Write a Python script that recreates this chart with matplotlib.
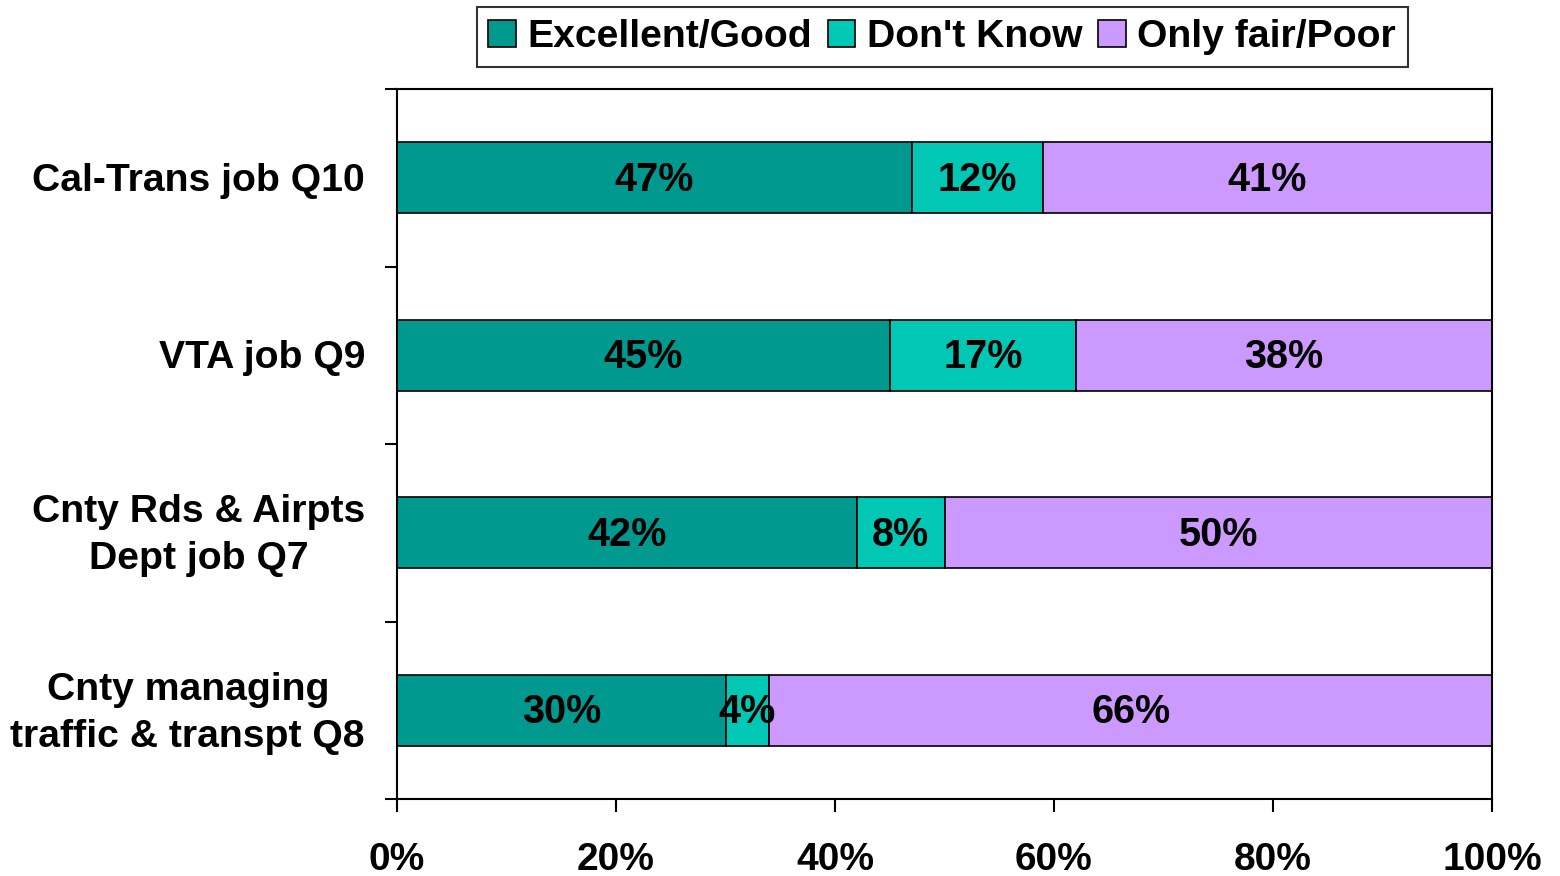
import matplotlib.pyplot as plt
import matplotlib.transforms as mtransforms
import numpy as np

# Survey ratings, in percent
categories = ["Cal-Trans job Q10", "VTA job Q9", "Cnty Rds & Airpts\nDept job Q7",
              "Cnty managing\ntraffic & transpt Q8"]
excellent_good = [47, 45, 42, 30]
dont_know = [12, 17, 8, 4]
fair_poor = [41, 38, 50, 66]
series_names = ["Excellent/Good", "Don't Know", "Only fair/Poor"]
colors = ["#009990", "#00C8B4", "#CC99FF"]
x_ticks = [0, 20, 40, 60, 80, 100]

plt.rcParams['font.family'] = ['Liberation Sans', 'DejaVu Sans']
plt.rcParams['font.weight'] = 'bold'

fig = plt.figure(figsize=(15.6, 8.76), dpi=100)
ax = fig.add_axes([0.2545, 0.0879, 0.7019, 0.8105])

y = np.arange(len(categories))
left = np.zeros(len(categories))
for vals, name, col in zip([excellent_good, dont_know, fair_poor], series_names, colors):
    vals = np.array(vals)
    ax.barh(y, vals, left=left, height=0.4, color=col, edgecolor="black",
            linewidth=1.2, label=name)
    for yi, l, v in zip(y, left, vals):
        ax.text(l + v / 2, yi + 0.01, f"{v}%", ha="center", va="center",
                fontsize=28.5, fontweight="bold", color="black")
    left = left + vals

ax.set_xlim(0, 100)
ax.set_ylim(len(categories) - 0.5, -0.5)

# Major ticks at category boundaries, labels on minor ticks at centers
ax.set_yticks(np.arange(-0.5, len(categories), 1.0))
ax.set_yticklabels([])
ax.set_yticks(y, minor=True)
ax.set_yticklabels(categories, minor=True, fontsize=28.2, fontweight="bold",
                   multialignment="center", linespacing=1.4, va="center")
ax.tick_params(axis="y", which="minor", length=0, pad=23)
ax.tick_params(axis="y", which="major", length=9, width=1.5, direction="out")
shift = mtransforms.ScaledTranslation(0, -3 / 100, fig.dpi_scale_trans)
for lab in ax.get_yticklabels(minor=True):
    lab.set_transform(lab.get_transform() + shift)

ax.set_xticks(x_ticks)
ax.set_xticklabels([f"{t}%" for t in x_ticks], fontsize=28, fontweight="bold")
ax.tick_params(axis="x", length=9, width=1.5, direction="out", pad=22)

for s in ax.spines.values():
    s.set_linewidth(1.5)

leg = fig.legend(loc="upper center", bbox_to_anchor=(0.604, 0.997), ncol=3,
                 fontsize=28.2, frameon=True, fancybox=False, edgecolor="black",
                 handlelength=0.7, handleheight=0.7, handletextpad=0.3,
                 columnspacing=0.4, borderpad=0.3, borderaxespad=0.12)
leg.get_frame().set_linewidth(1.5)
for t in leg.get_texts():
    t.set_fontweight("bold")

fig.savefig("out.png", dpi=100)
